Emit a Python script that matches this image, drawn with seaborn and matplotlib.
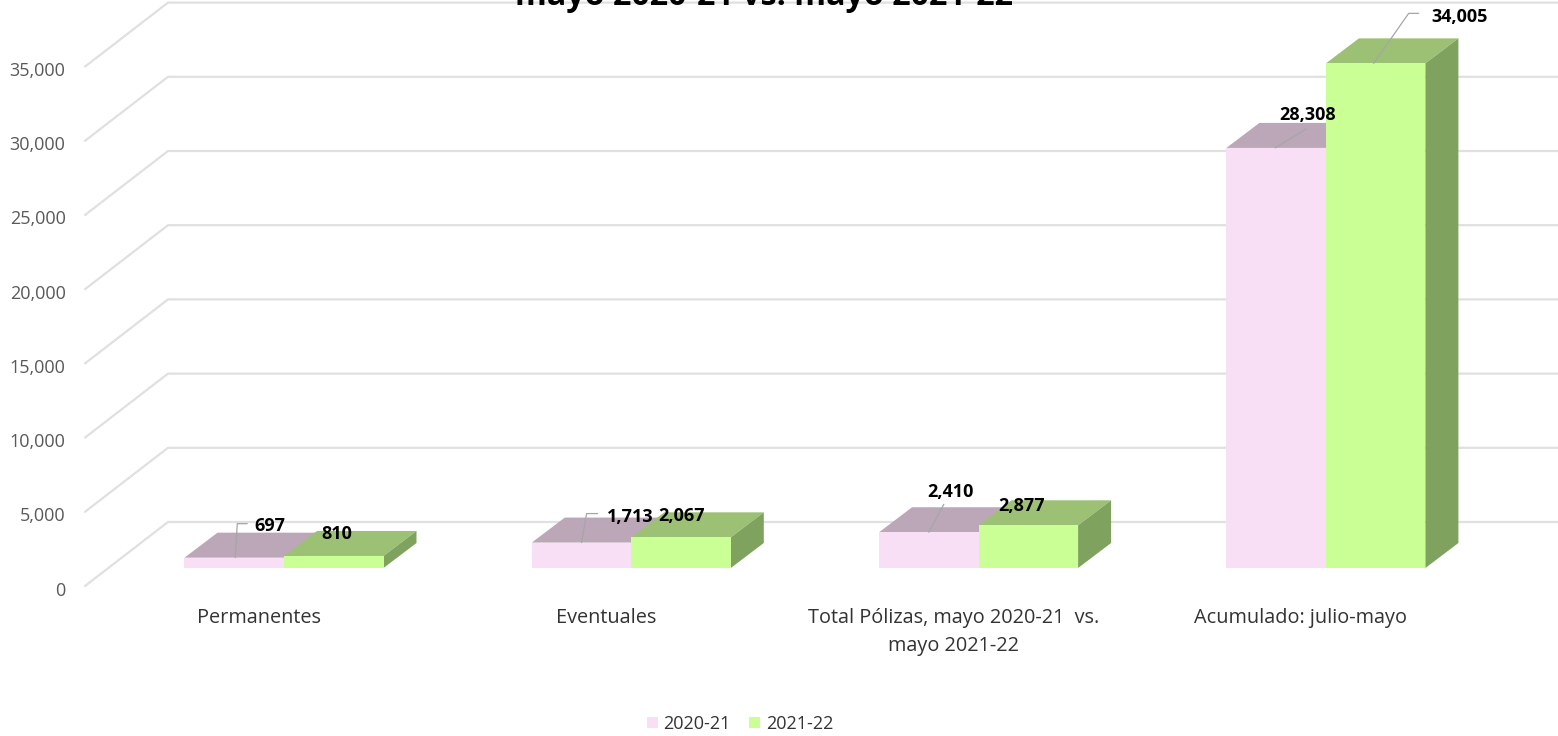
import matplotlib
matplotlib.use("Agg")
import matplotlib.pyplot as plt
import numpy as np
import pandas as pd
import seaborn as sns
from matplotlib.patches import Polygon
from matplotlib.transforms import ScaledTranslation

# data
categorias = ["Permanentes", "Eventuales",
              "Total Pólizas, mayo 2020-21  vs.\nmayo 2021-22", "Acumulado: julio-mayo"]
ciclos = ["2020-21", "2021-22"]
polizas_2020 = [697, 1713, 2410, 28308]
polizas_2021 = [810, 2067, 2877, 34005]
yticks = [0, 5000, 10000, 15000, 20000, 25000, 30000, 35000]
titulo = "mayo 2020-21 vs. mayo 2021-22"

# colours (front, top, side)
caras = {
    "2020-21": ("#F9DFF5", "#BCA7B8", "#BCA7B8"),
    "2021-22": ("#CAFF95", "#9DC174", "#7FA35F"),
}
GRID = "#E0E0E0"

# pixel scale of the picture
W, H = 1558, 736
PX_X = 1 / 347.3      # category units per pixel
PX_Y = 1 / 0.01484    # polizas per pixel
X0, Y0 = 284, 568     # pixel of x=0, y=0

sns.set_theme(style="white")
plt.rcParams["font.family"] = ["Open Sans", "DejaVu Sans"]

df = pd.DataFrame({
    "categoria": categorias * 2,
    "ciclo": [ciclos[0]] * 4 + [ciclos[1]] * 4,
    "polizas": polizas_2020 + polizas_2021,
})

fig = plt.figure(figsize=(W / 100, H / 100), dpi=100)
ax = fig.add_axes([85 / W, 1 - 586 / H, (W - 85) / W, 586 / H])
sns.barplot(data=df, x="categoria", y="polizas", hue="ciclo", hue_order=ciclos,
            palette={c: caras[c][0] for c in ciclos}, saturation=1, width=0.573,
            gap=0, errorbar=None, linewidth=0, ax=ax, zorder=3)

ax.set_xlim((85 - X0) * PX_X, (W - X0) * PX_X)
ax.set_ylim((Y0 - 586) * PX_Y, Y0 * PX_Y)
sns.despine(ax=ax, left=True, bottom=True)
ax.set_xlabel("")
ax.set_ylabel("")

# back wall and side wall gridlines
FRONT = -18 * PX_Y
BACK = 46 * PX_Y
x_front = (85 - X0) * PX_X
x_back = (168 - X0) * PX_X
for t in yticks:
    ax.plot([x_front, x_back, ax.get_xlim()[1]], [t + FRONT, t + BACK, t + BACK],
            color=GRID, lw=1.6, zorder=1, clip_on=False, solid_joinstyle="miter")

# axis labels sit on the front edge of the floor
ax.set_yticks(np.array(yticks) + FRONT)
ax.set_yticklabels([f"{t:,}" for t in yticks], fontsize=13, color="#595959")
ax.set_xticks(np.arange(4) - 25 * PX_X)
ax.set_xticklabels(categorias, fontsize=14.3, color="#333333", linespacing=1.55)
ax.tick_params(axis="y", length=0, pad=14)
ax.tick_params(axis="x", length=0, pad=16)
bajar = ScaledTranslation(0, -2.5 / 72 * 72 / 100, fig.dpi_scale_trans)
for lab in ax.get_yticklabels():
    lab.set_transform(lab.get_transform() + bajar)

# 3D faces on top of the seaborn bars
dx, dy = 33 * PX_X, 25 * PX_Y
for cont, ciclo in zip(ax.containers, ciclos):
    _, top_c, side_c = caras[ciclo]
    for bar in cont:
        x, w, h = bar.get_x(), bar.get_width(), bar.get_height()
        ax.add_patch(Polygon([(x, h), (x + w, h), (x + w + dx, h + dy), (x + dx, h + dy)],
                             fc=top_c, ec="none", zorder=2.5))
        ax.add_patch(Polygon([(x + w, 0), (x + w + dx, dy), (x + w + dx, h + dy), (x + w, h)],
                             fc=side_c, ec="none", zorder=2.5))

# data labels: (centre offset from front-top centre of the bar, in px) and leader points
etiquetas = [
    (0, 0, (36, -32), [(1, 0), (3, -34), (13, -34)]),
    (0, 1, (3, -22), None),
    (1, 0, (49, -26), [(0, 0), (5, -29), (16, -29)]),
    (1, 1, (1, -21), None),
    (2, 0, (22, -40), [(0, 0), (15, -28)]),
    (2, 1, (-7, -19), None),
    (3, 0, (31, -33), [(-1, 0), (30, -19)]),
    (3, 1, (84, -46), [(-2, 0), (33, -50), (43, -50)]),
]
for g, s, (ox, oy), guia in etiquetas:
    bar = ax.containers[s][g]
    cx = bar.get_x() + bar.get_width() / 2
    h = bar.get_height()
    if guia:
        ax.plot([cx + p[0] * PX_X for p in guia], [h - p[1] * PX_Y for p in guia],
                color="#A6A6A6", lw=0.9, zorder=4)
    ax.text(cx + ox * PX_X, h - oy * PX_Y, f"{int(h):,}", ha="center", va="center",
            fontsize=13, fontweight="bold", color="black", zorder=5)

# legend
handles, labels = ax.get_legend_handles_labels()
ax.legend(handles, labels, loc="center", bbox_to_anchor=(740 / W, 1 - 724 / H),
          bbox_transform=fig.transFigure, ncol=2, frameon=False, fontsize=13,
          handlelength=0.61, handleheight=0.61, handletextpad=0.3, columnspacing=1.05,
          labelcolor="#333333")

# title is cut by the top edge, as in the picture
fig.text(764 / W, 1 - 5 / H, titulo, ha="center", va="baseline", fontsize=23.2,
         fontweight="bold", color="black")

fig.savefig("out.png", dpi=100, facecolor="white")
